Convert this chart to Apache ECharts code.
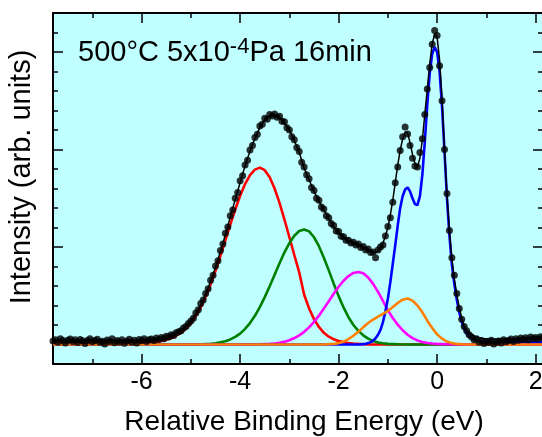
<!DOCTYPE html>
<html><head><meta charset="utf-8">
<script src="https://cdn.jsdelivr.net/npm/echarts@6/dist/echarts.min.js"></script>
<style>html,body{margin:0;padding:0;background:#fff}#c{width:542px;height:437px}</style>
</head><body><div id="c"></div>
<script>
// ---- data (relative binding energy in eV, intensity in arb. units) ----
const energy = [
-7.8,-7.75,-7.7,-7.65,-7.6,-7.55,-7.5,-7.45,-7.4,-7.35,
-7.3,-7.25,-7.2,-7.15,-7.1,-7.05,-7,-6.95,-6.9,-6.85,
-6.8,-6.75,-6.7,-6.65,-6.6,-6.55,-6.5,-6.45,-6.4,-6.35,
-6.3,-6.25,-6.2,-6.15,-6.1,-6.05,-6,-5.95,-5.9,-5.85,
-5.8,-5.75,-5.7,-5.65,-5.6,-5.55,-5.5,-5.45,-5.4,-5.35,
-5.3,-5.25,-5.2,-5.15,-5.1,-5.05,-5,-4.95,-4.9,-4.85,
-4.8,-4.75,-4.7,-4.65,-4.6,-4.55,-4.5,-4.45,-4.4,-4.35,
-4.3,-4.25,-4.2,-4.15,-4.1,-4.05,-4,-3.95,-3.9,-3.85,
-3.8,-3.75,-3.7,-3.65,-3.6,-3.55,-3.5,-3.45,-3.4,-3.35,
-3.3,-3.25,-3.2,-3.15,-3.1,-3.05,-3,-2.95,-2.9,-2.85,
-2.8,-2.75,-2.7,-2.65,-2.6,-2.55,-2.5,-2.45,-2.4,-2.35,
-2.3,-2.25,-2.2,-2.15,-2.1,-2.05,-2,-1.95,-1.9,-1.85,
-1.8,-1.75,-1.7,-1.65,-1.6,-1.55,-1.5,-1.45,-1.4,-1.35,
-1.3,-1.25,-1.2,-1.15,-1.1,-1.05,-1,-0.95,-0.9,-0.85,
-0.8,-0.75,-0.7,-0.65,-0.6,-0.55,-0.5,-0.45,-0.4,-0.35,
-0.3,-0.25,-0.2,-0.15,-0.1,-0.05,0,0.05,0.1,0.15,
0.2,0.25,0.3,0.35,0.4,0.45,0.5,0.55,0.6,0.65,
0.7,0.75,0.8,0.85,0.9,0.95,1,1.05,1.1,1.15,
1.2,1.25,1.3,1.35,1.4,1.45,1.5,1.55,1.6,1.65,
1.7,1.75,1.8,1.85,1.9,1.95,2,2.05,2.1,2.15];

const measured = [
0.18,0.25,0.12,0.3,0.2,0.08,0.22,0.28,0.15,0.24,
0.1,0.26,0.19,0.05,0.21,0.3,0.14,0.2,0.27,0.11,
0.17,0.02,0.23,0.16,0.29,0.09,0.2,0.13,0.25,0.06,
0.18,0.27,0.12,0.22,0.08,0.26,0.19,0.3,0.15,0.24,
0.28,0.2,0.33,0.26,0.36,0.3,0.42,0.38,0.5,0.46,
0.6,0.66,0.7,0.85,0.92,1.08,1.2,1.35,1.62,1.78,
2.1,2.28,2.62,2.86,3.3,3.55,4.02,4.3,4.82,5.15,
5.7,6.02,6.6,6.9,7.5,7.8,8.4,8.65,9.2,9.45,
9.98,10.2,10.62,10.78,11.2,11.3,11.6,11.55,11.8,11.72,
11.82,11.65,11.7,11.45,11.42,11.12,11.0,10.65,10.5,10.1,
9.9,9.35,9.1,8.7,8.5,8.05,7.9,7.5,7.4,7.05,
6.95,6.6,6.5,6.2,6.1,5.82,5.8,5.55,5.52,5.35,
5.35,5.2,5.25,5.1,5.15,4.98,5.02,4.85,4.9,4.72,
4.75,4.45,4.85,5.0,5.1,5.57,6.05,6.5,7.3,8.3,
9.1,9.95,10.65,11.15,10.8,10.2,9.55,9.15,9.1,9.85,
10.55,11.8,13.1,14.2,15.4,16.1,15.85,14.3,12.5,10.0,
7.75,5.85,4.45,3.55,2.62,1.85,1.3,0.92,0.7,0.5,
0.38,0.25,0.3,0.12,0.2,0.05,0.15,0.1,0.22,0.03,
0.12,0.18,0.08,0.25,0.14,0.2,0.28,0.16,0.3,0.22,
0.33,0.26,0.35,0.24,0.38,0.3,0.36,0.28,0.4,0.34];

const fitTotal = [
0.22,0.22,0.22,0.22,0.22,0.22,0.22,0.22,0.22,0.22,
0.22,0.22,0.22,0.22,0.22,0.22,0.22,0.22,0.22,0.22,
0.22,0.22,0.22,0.22,0.22,0.22,0.22,0.22,0.22,0.22,
0.22,0.22,0.22,0.22,0.22,0.22,0.22,0.22,0.22,0.23,
0.24,0.25,0.26,0.28,0.3,0.33,0.36,0.4,0.44,0.5,
0.57,0.64,0.72,0.82,0.94,1.07,1.21,1.39,1.58,1.8,
2.04,2.3,2.59,2.9,3.24,3.6,3.96,4.36,4.78,5.2,
5.63,6.08,6.53,6.98,7.43,7.87,8.31,8.74,9.15,9.54,
9.91,10.25,10.56,10.85,11.12,11.33,11.51,11.63,11.72,11.75,
11.74,11.7,11.62,11.5,11.36,11.18,10.98,10.74,10.45,10.16,
9.85,9.45,9.05,8.75,8.45,8.15,7.85,7.6,7.35,7.12,
6.9,6.67,6.45,6.25,6.05,5.9,5.75,5.62,5.5,5.4,
5.32,5.26,5.2,5.15,5.1,5.05,5,4.93,4.85,4.78,
4.73,4.72,4.8,4.95,5.2,5.55,6,6.65,7.4,8.3,
9.2,9.95,10.55,10.9,10.85,10.35,9.75,9.3,9.1,9.55,
10.5,11.8,13.1,14.4,15.4,15.95,15.75,14.6,12.6,10.0,
7.7,5.8,4.4,3.35,2.55,1.9,1.35,0.98,0.75,0.6,
0.5,0.44,0.39,0.35,0.32,0.3,0.29,0.28,0.28,0.28,
0.28,0.28,0.28,0.28,0.28,0.28,0.28,0.28,0.28,0.28,
0.28,0.28,0.28,0.28,0.28,0.28,0.28,0.28,0.28,0.28];

// fitted components: [energy, intensity]
const peakRed = [[-7.8,0.1],[-6,0.1],[-5.9,0.1],[-5.8,0.12],[-5.7,0.14],[-5.6,0.18],[-5.5,0.24],[-5.4,0.32],[-5.3,0.45],[-5.2,0.6],[-5.1,0.82],[-5,1.09],[-4.9,1.46],[-4.8,1.91],[-4.7,2.45],[-4.6,3.08],[-4.5,3.78],[-4.4,4.55],[-4.3,5.34],[-4.2,6.15],[-4.1,6.92],[-4,7.63],[-3.9,8.23],[-3.8,8.69],[-3.7,8.97],[-3.6,9.07],[-3.5,8.94],[-3.4,8.58],[-3.3,8.0],[-3.2,7.26],[-3.1,6.41],[-3,5.5],[-2.9,4.59],[-2.8,3.7],[-2.7,2.55],[-2.6,1.85],[-2.5,1.3],[-2.4,0.9],[-2.3,0.6],[-2.2,0.4],[-2.1,0.27],[-2,0.18],[-1.9,0.12],[-1.8,0.08],[-1.7,0.05],[-1.6,0.03],[-1.4,0],[2.15,0]];
const peakGreen = [[-7.8,0],[-5,0],[-4.8,0.01],[-4.6,0.04],[-4.5,0.06],[-4.4,0.11],[-4.3,0.17],[-4.2,0.26],[-4.1,0.39],[-4,0.56],[-3.9,0.8],[-3.8,1.1],[-3.7,1.47],[-3.6,1.92],[-3.5,2.43],[-3.4,2.99],[-3.3,3.58],[-3.2,4.17],[-3.1,4.73],[-3,5.2],[-2.9,5.58],[-2.8,5.82],[-2.7,5.9],[-2.6,5.8],[-2.5,5.5],[-2.4,5.04],[-2.3,4.45],[-2.2,3.8],[-2.1,3.12],[-2,2.48],[-1.9,1.9],[-1.8,1.4],[-1.7,1.0],[-1.6,0.7],[-1.5,0.47],[-1.4,0.3],[-1.3,0.18],[-1.2,0.1],[-1.1,0.06],[-1,0.03],[-0.8,0.01],[-0.6,0],[2.15,0]];
const peakMagenta = [[-7.8,0],[-3.8,0],[-3.6,0.01],[-3.4,0.03],[-3.3,0.05],[-3.2,0.09],[-3.1,0.14],[-3,0.22],[-2.9,0.33],[-2.8,0.47],[-2.7,0.65],[-2.6,0.88],[-2.5,1.16],[-2.4,1.48],[-2.3,1.84],[-2.2,2.22],[-2.1,2.6],[-2,2.96],[-1.9,3.27],[-1.8,3.51],[-1.7,3.67],[-1.6,3.72],[-1.5,3.65],[-1.4,3.44],[-1.3,3.11],[-1.2,2.7],[-1.1,2.24],[-1,1.75],[-0.9,1.36],[-0.8,1.02],[-0.7,0.73],[-0.6,0.5],[-0.5,0.33],[-0.4,0.21],[-0.3,0.13],[-0.2,0.08],[-0.1,0.05],[0,0.03],[0.1,0.02],[0.2,0.01],[0.4,0],[2.15,0]];
const peakBlue = [[-7.8,0],[-1.6,0],[-1.5,0.02],[-1.45,0.04],[-1.4,0.07],[-1.35,0.12],[-1.3,0.2],[-1.25,0.32],[-1.2,0.5],[-1.15,0.75],[-1.1,1.15],[-1.05,1.7],[-1,2.35],[-0.95,3.2],[-0.9,4.15],[-0.85,5.1],[-0.8,6.1],[-0.75,7.0],[-0.7,7.6],[-0.65,7.95],[-0.6,8.05],[-0.55,7.85],[-0.5,7.5],[-0.45,7.2],[-0.4,7.15],[-0.35,7.6],[-0.3,8.7],[-0.25,10.4],[-0.2,12.3],[-0.15,13.9],[-0.1,14.9],[-0.05,15.25],[0,15.0],[0.05,14.0],[0.1,12.2],[0.15,9.9],[0.2,7.5],[0.25,5.6],[0.3,4.1],[0.35,3.1],[0.4,2.3],[0.45,1.65],[0.5,1.15],[0.55,0.8],[0.6,0.55],[0.65,0.42],[0.7,0.33],[0.8,0.22],[0.9,0.17],[1,0.15],[1.2,0.13],[2.15,0.12]];
const peakOrange = [[-7.8,0],[-2.3,0],[-2.1,0.03],[-2,0.07],[-1.9,0.15],[-1.8,0.28],[-1.7,0.45],[-1.6,0.65],[-1.5,0.88],[-1.4,1.1],[-1.3,1.28],[-1.2,1.43],[-1.1,1.57],[-1,1.72],[-0.9,1.92],[-0.8,2.13],[-0.7,2.3],[-0.6,2.36],[-0.5,2.25],[-0.4,2.0],[-0.3,1.65],[-0.2,1.22],[-0.1,0.85],[0,0.52],[0.1,0.3],[0.2,0.15],[0.3,0.07],[0.4,0.03],[0.5,0.01],[0.7,0],[2.15,0]];

const xTickLabels = ['-6','-4','-2','0','2'];
const xTitle = 'Relative Binding Energy (eV)';
const yTitle = 'Intensity (arb. units)';
const noteParts = ['500°C 5x10', '-4', 'Pa 16min'];

// ---- chart ----
const FONT = "'Liberation Sans', Arial, Helvetica, sans-serif";
const zip = (a, b) => a.map((v, i) => [v, b[i]]);

function axisBase(extra) {
  return Object.assign({
    type: 'value',
    axisLine: { show: true, onZero: false, lineStyle: { color: '#000', width: 2 } },
    axisTick: { show: true, inside: true, length: 10, lineStyle: { color: '#000', width: 1.5 } },
    minorTick: { show: true, length: 5, lineStyle: { color: '#000', width: 1.5 } },
    splitLine: { show: false },
    minorSplitLine: { show: false },
    axisLabel: { show: false }
  }, extra);
}

const chart = echarts.init(document.getElementById('c'), null, { renderer: 'canvas' });
const comp = (data, color) => ({
  type: 'line', data, showSymbol: false, symbol: 'none', silent: true,
  lineStyle: { color, width: 2.6 }, itemStyle: { color }, z: 2
});
chart.setOption({
  animation: false,
  textStyle: { fontFamily: FONT },
  grid: { left: 53, top: 13, width: 490, height: 351, show: true, backgroundColor: '#c0ffff', borderWidth: 0, containLabel: false, outerBoundsMode: 'none' },
  xAxis: [
    axisBase({ position: 'bottom', min: -7.8, max: 2.15, splitNumber: 5,
      minorTick: { show: true, splitNumber: 2, length: 5, lineStyle: { color: '#000', width: 1.5 } },
      axisLabel: { show: true, color: '#000', fontSize: 25, fontFamily: FONT, margin: 6,
        formatter: v => { const s = String(Math.round(v * 100) / 100); return xTickLabels.includes(s) ? s : ''; } } }),
    axisBase({ position: 'top', min: -7.8, max: 2.15, splitNumber: 5,
      minorTick: { show: true, splitNumber: 2, length: 5, lineStyle: { color: '#000', width: 1.5 } } })
  ],
  yAxis: [
    axisBase({ position: 'left', min: -1, max: 17, splitNumber: 4,
      minorTick: { show: true, splitNumber: 5, length: 5, lineStyle: { color: '#000', width: 1.5 } } }),
    axisBase({ position: 'right', min: -1, max: 17, splitNumber: 4,
      minorTick: { show: true, splitNumber: 5, length: 5, lineStyle: { color: '#000', width: 1.5 } } })
  ],
  series: [
    comp(peakRed, '#ff0000'),
    comp(peakGreen, '#008000'),
    comp(peakMagenta, '#ff00ff'),
    comp(peakBlue, '#0000ff'),
    comp(peakOrange, '#ff8000'),
    { type: 'line', data: zip(energy, fitTotal), showSymbol: false, symbol: 'none', silent: true,
      lineStyle: { color: '#000', width: 1.5 }, z: 3 },
    { type: 'scatter', data: zip(energy, measured), symbol: 'circle', symbolSize: 7, silent: true,
      itemStyle: { color: '#000' }, z: 4 }
  ],
  graphic: [
    { type: 'text', x: 78, y: 36, z: 10, style: {
        text: '{m|' + noteParts[0] + '}{s|' + noteParts[1] + '}{m|' + noteParts[2] + '}',
        rich: { m: { fontSize: 29, lineHeight: 34, fontFamily: FONT, fill: '#000' },
                s: { fontSize: 22, lineHeight: 16, verticalAlign: 'top', fontFamily: FONT, fill: '#000' } },
        fill: '#000', align: 'left', verticalAlign: 'top' } },
    { type: 'text', x: 304, y: 422, style: { text: xTitle, fontSize: 28, fontFamily: FONT, fill: '#000', align: 'center', verticalAlign: 'middle' } },
    { type: 'text', x: 22, y: 177, rotation: Math.PI / 2, style: { text: yTitle, fontSize: 29, fontFamily: FONT, fill: '#000', align: 'center', verticalAlign: 'middle' } }
  ]
});
</script></body></html>
